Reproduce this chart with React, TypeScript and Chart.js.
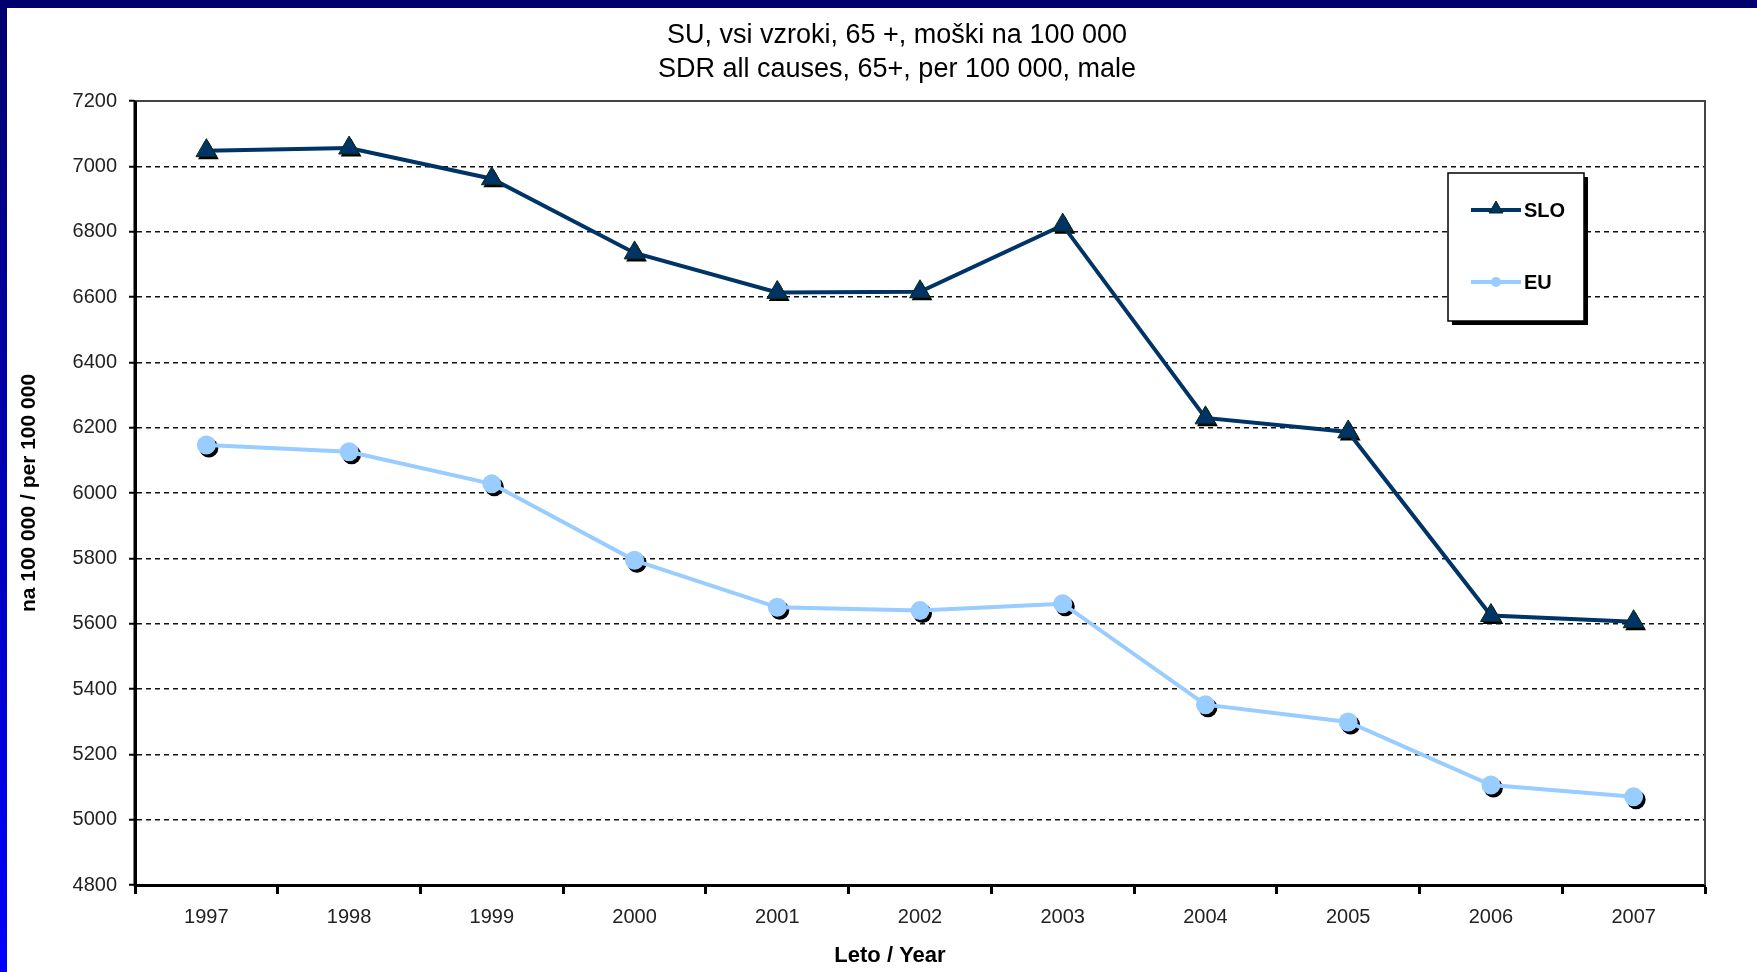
import React, { useEffect, useRef } from 'react';
import { Chart, registerables } from 'chart.js';

Chart.register(...registerables);

const years = ['1997', '1998', '1999', '2000', '2001', '2002', '2003', '2004', '2005', '2006', '2007'];
const sloValues = [7048, 7056, 6962, 6735, 6614, 6616, 6820, 6230, 6187, 5625, 5606];
const euValues = [6147, 6126, 6028, 5794, 5650, 5640, 5661, 5352, 5299, 5106, 5070];
const seriesLabels = ['SLO', 'EU'];
const titleLines = ['SU, vsi vzroki, 65 +, moški na 100 000', 'SDR all causes, 65+, per 100 000, male'];
const yAxisTitle = 'na 100 000 / per 100 000';
const xAxisTitle = 'Leto / Year';
const yMin = 4800;
const yMax = 7200;
const yStep = 200;

const FONT = "'Liberation Sans', Arial, Helvetica, sans-serif";
const SLO_COLOR = '#003366';
const EU_COLOR = '#99CCFF';

function trianglePath(ctx: CanvasRenderingContext2D, x: number, y: number, r: number) {
  ctx.beginPath();
  ctx.moveTo(x, y - r);
  ctx.lineTo(x + 0.866 * r, y + 0.5 * r);
  ctx.lineTo(x - 0.866 * r, y + 0.5 * r);
  ctx.closePath();
}

const decorPlugin = {
  id: 'decor',
  beforeDatasetDraw(chart: any, args: any) {
    const ctx = chart.ctx as CanvasRenderingContext2D;
    const meta = chart.getDatasetMeta(args.index);
    const ds = chart.data.datasets[args.index];
    ctx.save();
    ctx.fillStyle = '#000';
    meta.data.forEach((pt: any) => {
      const r = ds.pointRadius;
      if (ds.pointStyle === 'triangle') {
        trianglePath(ctx, pt.x + 2, pt.y + 2.5, r);
        ctx.fill();
      } else {
        ctx.beginPath();
        ctx.arc(pt.x + 2.5, pt.y + 3, r, 0, Math.PI * 2);
        ctx.fill();
      }
    });
    ctx.restore();
  },
  afterDraw(chart: any) {
    const ctx = chart.ctx as CanvasRenderingContext2D;
    const ca = chart.chartArea;
    ctx.save();
    // plot area top / right border
    ctx.strokeStyle = '#444';
    ctx.lineWidth = 2;
    ctx.beginPath();
    ctx.moveTo(ca.left, ca.top);
    ctx.lineTo(ca.right, ca.top);
    ctx.lineTo(ca.right, ca.bottom);
    ctx.stroke();
    // solid left axis line
    ctx.strokeStyle = '#000';
    ctx.lineWidth = 3;
    ctx.beginPath();
    ctx.moveTo(ca.left, ca.top);
    ctx.lineTo(ca.left, ca.bottom + 1.5);
    ctx.stroke();

    // title
    ctx.fillStyle = '#000';
    ctx.font = `27px ${FONT}`;
    ctx.textAlign = 'center';
    ctx.textBaseline = 'middle';
    ctx.fillText(titleLines[0], 890, 28);
    ctx.fillText(titleLines[1], 890, 62);

    // x axis title
    ctx.font = `bold 22px ${FONT}`;
    ctx.fillText(xAxisTitle, 883, 948);

    // legend
    const bx = 1441, by = 165, bw = 136, bh = 148;
    ctx.fillStyle = '#000';
    ctx.fillRect(bx + 4, by + 4, bw, bh);
    ctx.fillStyle = '#fff';
    ctx.fillRect(bx, by, bw, bh);
    ctx.strokeStyle = '#000';
    ctx.lineWidth = 1.5;
    ctx.strokeRect(bx, by, bw, bh);
    const itemsY = [202, 274];
    chart.data.datasets.forEach((ds: any, i: number) => {
      const y = itemsY[i];
      ctx.strokeStyle = ds.borderColor;
      ctx.lineWidth = 4;
      ctx.beginPath();
      ctx.moveTo(1464, y);
      ctx.lineTo(1514, y);
      ctx.stroke();
      ctx.fillStyle = ds.pointBackgroundColor;
      if (ds.pointStyle === 'triangle') {
        trianglePath(ctx, 1489, y - 1, 8);
        ctx.fill();
        ctx.strokeStyle = ds.pointBorderColor;
        ctx.lineWidth = 1;
        ctx.stroke();
      } else {
        ctx.beginPath();
        ctx.arc(1489, y, 5, 0, Math.PI * 2);
        ctx.fill();
      }
      ctx.fillStyle = '#000';
      ctx.font = `bold 20px ${FONT}`;
      ctx.textAlign = 'left';
      ctx.textBaseline = 'middle';
      ctx.fillText(ds.label, 1517, y + 1);
    });
    ctx.restore();
  },
};

export default function App() {
  const canvasRef = useRef<HTMLCanvasElement | null>(null);

  useEffect(() => {
    if (!canvasRef.current) return;
    const chart = new Chart(canvasRef.current, {
      type: 'line',
      data: {
        labels: years,
        datasets: [
          {
            label: seriesLabels[0],
            data: sloValues,
            borderColor: SLO_COLOR,
            borderWidth: 4,
            pointStyle: 'triangle',
            pointRadius: 12,
            pointBackgroundColor: SLO_COLOR,
            pointBorderColor: '#0a2a12',
            pointBorderWidth: 1,
            tension: 0,
          },
          {
            label: seriesLabels[1],
            data: euValues,
            borderColor: EU_COLOR,
            borderWidth: 4,
            pointStyle: 'circle',
            pointRadius: 9.5,
            pointBackgroundColor: EU_COLOR,
            pointBorderColor: EU_COLOR,
            pointBorderWidth: 0,
            tension: 0,
          },
        ],
      },
      options: {
        responsive: false,
        animation: false,
        layout: { padding: { top: 93, right: 52, left: 0, bottom: 0 } },
        plugins: {
          legend: { display: false },
          title: { display: false },
          tooltip: { enabled: false },
        },
        scales: {
          x: {
            type: 'category',
            offset: true,
            grid: {
              offset: true,
              drawOnChartArea: false,
              drawTicks: true,
              tickLength: 9,
              tickWidth: 3,
              tickColor: '#000',
            },
            border: { display: true, color: '#000', width: 3 },
            ticks: {
              font: { family: FONT, size: 20 },
              color: '#222',
              padding: 11,
              maxRotation: 0,
              autoSkip: false,
            },
            title: { display: false },
            afterFit: (scale: any) => {
              scale.height = 87;
            },
          },
          y: {
            type: 'linear',
            min: yMin,
            max: yMax,
            ticks: {
              stepSize: yStep,
              font: { family: FONT, size: 20 },
              color: '#222',
              padding: 12,
              callback: (v: any) => String(v),
            },
            grid: {
              color: (c: any) =>
                c.tick && (c.tick.value === yMin || c.tick.value === yMax) ? 'rgba(0,0,0,0)' : '#111',
              lineWidth: 1.5,
              tickLength: 6,
              tickWidth: 2,
              tickColor: '#000',
              tickBorderDash: [],
            },
            border: { display: true, color: '#000', width: 3, dash: [5, 4] },
            title: {
              display: true,
              text: yAxisTitle,
              font: { family: FONT, size: 21, weight: 'bold' },
              color: '#000',
              padding: { top: 10, bottom: 0 },
            },
            afterFit: (scale: any) => {
              scale.width = 128;
            },
          },
        },
      },
      plugins: [decorPlugin],
    });
    return () => chart.destroy();
  }, []);

  return (
    <div
      style={{
        position: 'fixed',
        left: 0,
        top: 0,
        width: 1757,
        height: 972,
        background: 'linear-gradient(to bottom, #00006e 0%, #0000ff 100%)',
        overflow: 'hidden',
      }}
    >
      <div style={{ position: 'absolute', left: 7, top: 8, width: 1750, height: 964, background: '#fff' }}>
        <canvas ref={canvasRef} width={1750} height={964} style={{ display: 'block' }} />
      </div>
    </div>
  );
}
